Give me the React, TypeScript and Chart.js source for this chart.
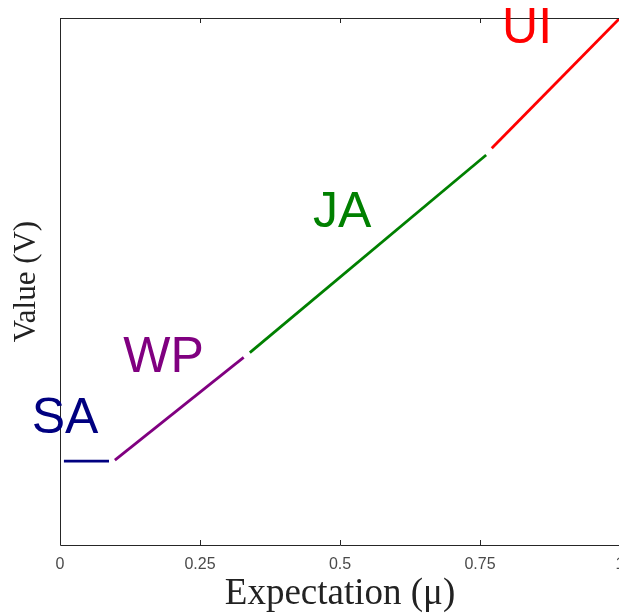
import React, { useEffect, useRef } from "react";
import { Chart, registerables } from "chart.js";

Chart.register(...registerables);

// Segment names and colours
const segmentNames = ["SA", "WP", "JA", "UI"];
const segmentColors = ["#000080", "#800080", "#008000", "#ff0000"];

// Series values (x = expectation μ, y = value V, normalised 0..1)
const saX = [0.007, 0.0875];
const saY = [0.159, 0.159];
const wpX = [0.098, 0.328];
const wpY = [0.161, 0.356];
const jaX = [0.339, 0.761];
const jaY = [0.365, 0.74];
const uiX = [0.771, 1.0];
const uiY = [0.753, 1.0];

// Tick labels
const xTicks = [0, 0.25, 0.5, 0.75, 1];
const xTickLabels = ["0", "0.25", "0.5", "0.75", "1"];

// Text annotation anchors (data coordinates, baseline centre)
const labelX = [0.009, 0.185, 0.504, 0.834];
const labelY = [0.2125, 0.328, 0.603, 0.9526];

const seriesX = [saX, wpX, jaX, uiX];
const seriesY = [saY, wpY, jaY, uiY];

const framePlugin = {
  id: "frame",
  afterDatasetsDraw(chart: any) {
    const { ctx, chartArea } = chart;
    const { left, top, right, bottom } = chartArea;
    const xs = chart.scales.x;
    const ys = chart.scales.y;
    ctx.save();
    ctx.strokeStyle = "#262626";
    ctx.lineWidth = 1;
    ctx.beginPath();
    ctx.rect(Math.round(left) + 0.5, Math.round(top) + 0.5, right - left, bottom - top);
    ctx.stroke();
    // inward tick marks on bottom and top
    ctx.beginPath();
    xTicks.forEach((v) => {
      const px = Math.round(xs.getPixelForValue(v)) + 0.5;
      ctx.moveTo(px, bottom);
      ctx.lineTo(px, bottom - 5);
      ctx.moveTo(px, top);
      ctx.lineTo(px, top + 5);
    });
    ctx.stroke();
    // segment labels
    ctx.font = "50px 'Liberation Sans', Arial, sans-serif";
    ctx.textAlign = "center";
    ctx.textBaseline = "alphabetic";
    segmentNames.forEach((name, i) => {
      ctx.fillStyle = segmentColors[i];
      ctx.fillText(name, xs.getPixelForValue(labelX[i]), ys.getPixelForValue(labelY[i]));
    });
    ctx.restore();
  },
};

export default function App() {
  const canvasRef = useRef<HTMLCanvasElement | null>(null);

  useEffect(() => {
    if (!canvasRef.current) return;
    const datasets = segmentNames.map((name, i) => ({
      label: name,
      data: seriesX[i].map((x, j) => ({ x, y: seriesY[i][j] })),
      borderColor: segmentColors[i],
      backgroundColor: segmentColors[i],
      borderWidth: 2.8,
      showLine: true,
      pointRadius: 0,
      fill: false,
      tension: 0,
    }));
    const chart = new Chart(canvasRef.current, {
      type: "scatter",
      data: { datasets },
      options: {
        responsive: false,
        maintainAspectRatio: false,
        animation: false,
        devicePixelRatio: 1,
        layout: { padding: { top: 18, right: 20, left: 0, bottom: 0 } },
        plugins: { legend: { display: false }, tooltip: { enabled: false } },
        scales: {
          x: {
            type: "linear",
            min: 0,
            max: 1,
            afterBuildTicks: (s: any) => {
              s.ticks = xTicks.map((v) => ({ value: v }));
            },
            afterFit: (s: any) => {
              s.height = 70;
            },
            grid: { display: false, drawTicks: false },
            border: { display: false },
            ticks: {
              autoSkip: false,
              maxRotation: 0,
              padding: 10,
              color: "#4a4a4a",
              font: { family: "'Liberation Sans', Arial, sans-serif", size: 16 },
              callback: (v: any) => {
                const idx = xTicks.indexOf(Number(v));
                return idx >= 0 ? xTickLabels[idx] : "";
              },
            },
            title: {
              display: true,
              text: "Expectation (μ)",
              color: "#222222",
              font: { family: "'Liberation Serif', 'Times New Roman', serif", size: 37, lineHeight: 1.1 },
              padding: { top: 0, bottom: 0 },
            },
          },
          y: {
            type: "linear",
            min: 0,
            max: 1,
            afterFit: (s: any) => {
              s.width = 60;
            },
            grid: { display: false, drawTicks: false },
            border: { display: false },
            ticks: { display: false },
            title: {
              display: true,
              text: "Value (V)",
              color: "#222222",
              font: { family: "'Liberation Serif', 'Times New Roman', serif", size: 31, lineHeight: 1.2 },
              padding: { top: 8, bottom: 0 },
            },
          },
        },
      },
      plugins: [framePlugin],
    });
    return () => chart.destroy();
  }, []);

  return (
    <div
      style={{
        position: "fixed",
        left: 0,
        top: 0,
        width: 619,
        height: 615,
        overflow: "hidden",
        background: "#ffffff",
      }}
    >
      <canvas ref={canvasRef} width={640} height={615} style={{ display: "block" }} />
    </div>
  );
}
